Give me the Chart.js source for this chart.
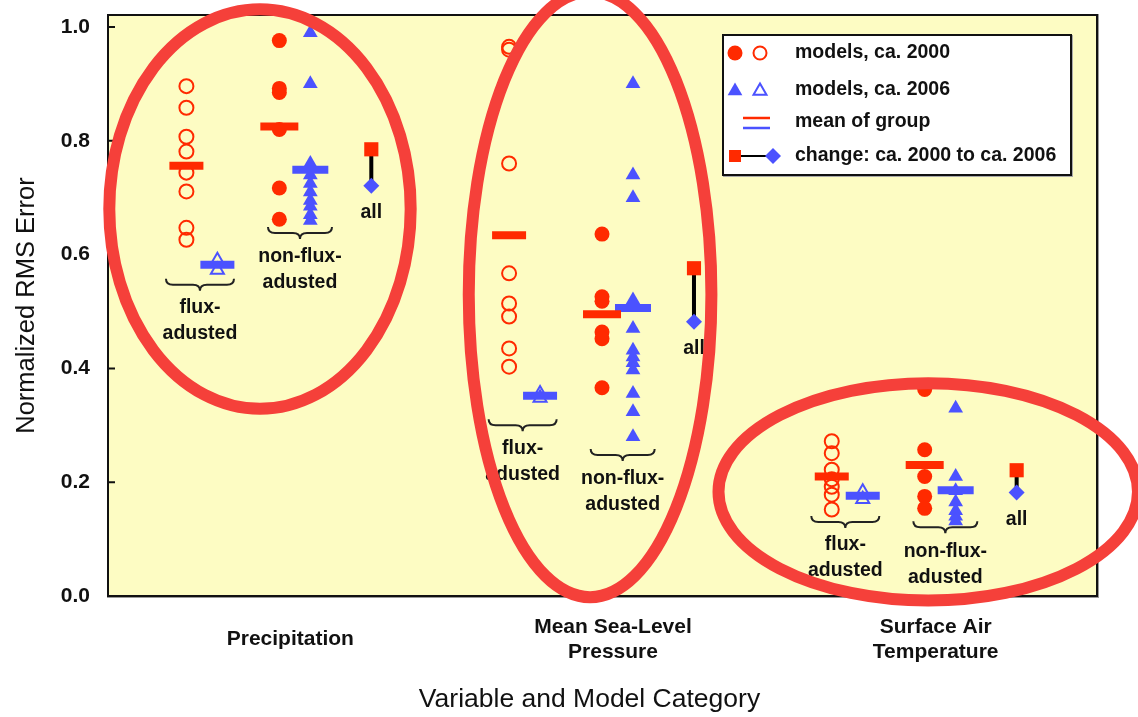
<!DOCTYPE html>
<html>
<head>
<meta charset="utf-8">
<script src="https://cdn.jsdelivr.net/npm/chart.js@4.4.1/dist/chart.umd.min.js"></script>
<style>
  html, body { margin: 0; padding: 0; background: #fff; }
  #wrap { width: 1138px; height: 717px; position: relative; }
</style>
</head>
<body>
<div id="wrap"><canvas id="rmsChart"></canvas></div>
<script>
// variables along the x axis
const categories = [['Precipitation'], ['Mean Sea-Level', 'Pressure'], ['Surface Air', 'Temperature']];
const yTicks = [0, 0.2, 0.4, 0.6, 0.8, 1.0];

// individual models, one list per variable
const flux2000 = [
  [0.896, 0.858, 0.807, 0.781, 0.744, 0.711, 0.647, 0.626],
  [0.965, 0.960, 0.760, 0.567, 0.514, 0.491, 0.435, 0.403],
  [0.272, 0.251, 0.222, 0.205, 0.192, 0.178, 0.152],
];
const flux2006 = [
  [0.590, 0.573],
  [0.356, 0.348],
  [0.183, 0.170],
];
const nonflux2000 = [
  [0.976, 0.892, 0.885, 0.820, 0.717, 0.662],
  [0.636, 0.526, 0.518, 0.464, 0.452, 0.366],
  [0.363, 0.257, 0.210, 0.175, 0.154],
];
const nonflux2006 = [
  [0.990, 0.900, 0.760, 0.740, 0.725, 0.710, 0.695, 0.685, 0.670, 0.660],
  [0.900, 0.740, 0.700, 0.520, 0.470, 0.432, 0.420, 0.410, 0.397, 0.356, 0.324, 0.280],
  [0.330, 0.210, 0.185, 0.165, 0.150, 0.140, 0.132],
];

// group means
const meanFlux2000 = [0.756, 0.634, 0.210];
const meanFlux2006 = [0.582, 0.352, 0.176];
const meanNonflux2000 = [0.825, 0.495, 0.230];
const meanNonflux2006 = [0.749, 0.506, 0.186];

// all models: ca. 2000 -> ca. 2006
const all2000 = [0.785, 0.576, 0.221];
const all2006 = [0.721, 0.482, 0.182];

// layout (x offsets from each variable, in category units)
const slot = { flux2000: -0.322, flux2006: -0.226, nonflux2000: -0.034, nonflux2006: 0.062, all: 0.251 };
const fluxBraceY = [0.547, 0.300, 0.130];
const nonfluxBraceY = [0.638, 0.248, 0.121];
const rings = [
  { x: -0.094, y: 0.680, rx: 0.467, ry: 0.351 },
  { x: 0.929, y: 0.530, rx: 0.376, ry: 0.532 },
  { x: 1.977, y: 0.183, rx: 0.650, ry: 0.191 },
];

const RED = '#ff2a00';
const BLUE = '#4b52ff';
const FONT = '"Liberation Sans", Arial, sans-serif';

const pts = (groups, off) => groups.flatMap((vals, i) => vals.map((v) => ({ x: i + off, y: v })));
const means = (vals, off) => vals.map((v, i) => ({ x: i + off, y: v }));

const datasets = [
  { data: pts(flux2000, slot.flux2000), pointStyle: 'circle', radius: 7, borderWidth: 2, borderColor: RED, backgroundColor: 'rgba(0,0,0,0)', order: 2 },
  { data: pts(nonflux2000, slot.nonflux2000), pointStyle: 'circle', radius: 7.5, borderWidth: 0, backgroundColor: RED, order: 2 },
  { data: pts(flux2006, slot.flux2006), pointStyle: 'triangle', radius: 7.5, borderWidth: 2, borderColor: BLUE, backgroundColor: 'rgba(0,0,0,0)', order: 2 },
  { data: pts(nonflux2006, slot.nonflux2006), pointStyle: 'triangle', radius: 8.5, borderWidth: 0, backgroundColor: BLUE, order: 2 },
  { data: means(meanFlux2000, slot.flux2000), pointStyle: 'line', radius: 17, borderWidth: 8, borderColor: RED, order: 1 },
  { data: means(meanNonflux2000, slot.nonflux2000), pointStyle: 'line', radius: 19, borderWidth: 8, borderColor: RED, order: 1 },
  { data: means(meanFlux2006, slot.flux2006), pointStyle: 'line', radius: 17, borderWidth: 8, borderColor: BLUE, order: 1 },
  { data: means(meanNonflux2006, slot.nonflux2006), pointStyle: 'line', radius: 18, borderWidth: 8, borderColor: BLUE, order: 1 },
];

all2000.forEach((v, i) => {
  datasets.push({
    type: 'line',
    data: [{ x: i + slot.all, y: v }, { x: i + slot.all, y: all2006[i] }],
    showLine: true,
    borderColor: '#000',
    borderWidth: 4,
    pointStyle: ['rect', 'rectRot'],
    pointRadius: [10, 8],
    pointBorderWidth: 0,
    pointBackgroundColor: [RED, BLUE],
    order: 0,
  });
});

// yellow plot area, frame and inward tick marks
const plotFrame = {
  id: 'plotFrame',
  beforeDraw(chart) {
    const { ctx, chartArea: a } = chart;
    ctx.save();
    ctx.fillStyle = '#fdfcc3';
    ctx.fillRect(a.left, a.top, a.right - a.left, a.bottom - a.top);
    ctx.restore();
  },
  beforeDatasetsDraw(chart) {
    const { ctx, chartArea: a, scales } = chart;
    ctx.save();
    ctx.strokeStyle = '#999';
    ctx.lineWidth = 1;
    ctx.strokeRect(a.left - 0.5, a.top - 0.5, a.right - a.left + 2, a.bottom - a.top + 2);
    ctx.strokeStyle = '#111';
    ctx.lineWidth = 2;
    ctx.strokeRect(a.left, a.top, a.right - a.left, a.bottom - a.top);
    ctx.beginPath();
    yTicks.forEach((t) => {
      const y = scales.y.getPixelForValue(t);
      ctx.moveTo(a.left, y);
      ctx.lineTo(a.left + 7, y);
    });
    ctx.stroke();
    ctx.restore();
  },
};

function brace(ctx, cx, y, w) {
  const h = w / 2;
  ctx.beginPath();
  ctx.moveTo(cx - h, y - 6);
  ctx.quadraticCurveTo(cx - h, y, cx - h + 7, y);
  ctx.lineTo(cx - 7, y);
  ctx.quadraticCurveTo(cx, y, cx, y + 6);
  ctx.quadraticCurveTo(cx, y, cx + 7, y);
  ctx.lineTo(cx + h - 7, y);
  ctx.quadraticCurveTo(cx + h, y, cx + h, y - 6);
  ctx.stroke();
}

function tri(ctx, x, y, r) {
  ctx.beginPath();
  ctx.moveTo(x, y - r);
  ctx.lineTo(x + r * 0.866, y + r * 0.5);
  ctx.lineTo(x - r * 0.866, y + r * 0.5);
  ctx.closePath();
}

const annotations = {
  id: 'annotations',
  afterDraw(chart) {
    const { ctx, chartArea: a, scales: { x: xs, y: ys } } = chart;
    ctx.save();
    ctx.textAlign = 'center';
    ctx.textBaseline = 'middle';
    ctx.fillStyle = '#111';

    // x axis title, set a little left of the plot centre as in the original
    ctx.font = '26.5px ' + FONT;
    ctx.fillText('Variable and Model Category', (a.left + a.right) / 2 - 13, 700);

    ctx.font = 'bold 19.5px ' + FONT;
    ctx.strokeStyle = '#222';
    ctx.lineWidth = 2;

    categories.forEach((c, i) => {
      const fx = xs.getPixelForValue(i - 0.28);
      const fy = ys.getPixelForValue(fluxBraceY[i]);
      brace(ctx, fx, fy, 68);
      ctx.fillText('flux-', fx, fy + 23);
      ctx.fillText('adusted', fx, fy + 49);

      const nx = xs.getPixelForValue(i + 0.03);
      const ny = ys.getPixelForValue(nonfluxBraceY[i]);
      brace(ctx, nx, ny, 64);
      ctx.fillText('non-flux-', nx, ny + 24);
      ctx.fillText('adusted', nx, ny + 50);

      ctx.fillText('all', xs.getPixelForValue(i + slot.all), ys.getPixelForValue(all2006[i]) + 27);
    });

    // legend box
    const lx = a.right - 374;
    const ly = a.top + 20;
    ctx.fillStyle = '#fff';
    ctx.fillRect(lx, ly, 348, 140);
    ctx.strokeStyle = '#aaa';
    ctx.lineWidth = 1;
    ctx.strokeRect(lx + 0.5, ly + 0.5, 349, 141);
    ctx.strokeStyle = '#111';
    ctx.lineWidth = 2;
    ctx.strokeRect(lx, ly, 348, 140);

    const rows = [ly + 18, ly + 55, ly + 87, ly + 121];
    // row 1: circles
    ctx.fillStyle = RED;
    ctx.beginPath(); ctx.arc(lx + 12, rows[0], 7.5, 0, Math.PI * 2); ctx.fill();
    ctx.strokeStyle = RED;
    ctx.beginPath(); ctx.arc(lx + 37, rows[0], 6.5, 0, Math.PI * 2); ctx.stroke();
    // row 2: triangles
    ctx.fillStyle = BLUE;
    ctx.strokeStyle = BLUE;
    tri(ctx, lx + 12, rows[1] + 1, 8.5); ctx.fill();
    tri(ctx, lx + 37, rows[1] + 1, 7.5); ctx.stroke();
    // row 3: mean lines
    ctx.lineWidth = 2.5;
    ctx.strokeStyle = RED;
    ctx.beginPath(); ctx.moveTo(lx + 20, rows[2] - 4); ctx.lineTo(lx + 47, rows[2] - 4); ctx.stroke();
    ctx.strokeStyle = BLUE;
    ctx.beginPath(); ctx.moveTo(lx + 20, rows[2] + 6); ctx.lineTo(lx + 47, rows[2] + 6); ctx.stroke();
    // row 4: change
    ctx.strokeStyle = '#000';
    ctx.lineWidth = 2;
    ctx.beginPath(); ctx.moveTo(lx + 12, rows[3]); ctx.lineTo(lx + 50, rows[3]); ctx.stroke();
    ctx.fillStyle = RED;
    ctx.fillRect(lx + 6, rows[3] - 6, 12, 12);
    ctx.fillStyle = BLUE;
    ctx.beginPath();
    ctx.moveTo(lx + 50, rows[3] - 8); ctx.lineTo(lx + 58, rows[3]);
    ctx.lineTo(lx + 50, rows[3] + 8); ctx.lineTo(lx + 42, rows[3]);
    ctx.closePath(); ctx.fill();

    ctx.fillStyle = '#111';
    ctx.textAlign = 'left';
    ['models, ca. 2000', 'models, ca. 2006', 'mean of group', 'change: ca. 2000 to ca. 2006']
      .forEach((t, k) => ctx.fillText(t, lx + 72, rows[k]));

    // red highlight rings
    ctx.strokeStyle = '#f5403a';
    ctx.lineWidth = 12;
    rings.forEach((r) => {
      const cx = xs.getPixelForValue(r.x);
      const cy = ys.getPixelForValue(r.y);
      const rx = xs.getPixelForValue(r.x + r.rx) - cx;
      const ry = cy - ys.getPixelForValue(r.y + r.ry);
      ctx.beginPath();
      ctx.ellipse(cx, cy, rx, ry, 0, 0, Math.PI * 2);
      ctx.stroke();
    });
    ctx.restore();
  },
};

new Chart(document.getElementById('rmsChart'), {
  type: 'scatter',
  data: { datasets },
  options: {
    responsive: true,
    maintainAspectRatio: false,
    animation: false,
    layout: { autoPadding: false, padding: { top: 15, right: 41, left: 0, bottom: 0 } },
    plugins: {
      legend: { display: false },
      tooltip: { enabled: false },
    },
    scales: {
      x: {
        type: 'linear',
        min: -0.565,
        max: 2.5,
        grid: { display: false, drawTicks: false },
        border: { display: false },
        afterBuildTicks: (axis) => { axis.ticks = categories.map((c, i) => ({ value: i })); },
        afterFit: (axis) => {
          axis.height = 121;
          axis.paddingLeft = 0;
          axis.paddingRight = 0;
        },
        ticks: {
          autoSkip: false,
          maxRotation: 0,
          padding: 31,
          crossAlign: 'center',
          color: '#111',
          font: { family: FONT, size: 21, weight: 'bold', lineHeight: 1.19 },
          callback: (v) => categories[v],
        },
        title: { display: false },
      },
      y: {
        min: 0,
        max: 1.021,
        grid: { display: false, drawTicks: false },
        border: { display: false },
        afterBuildTicks: (axis) => { axis.ticks = yTicks.map((v) => ({ value: v })); },
        afterFit: (axis) => {
          axis.width = 108;
          axis.paddingTop = 0;
          axis.paddingBottom = 0;
        },
        ticks: {
          padding: 18,
          color: '#111',
          font: { family: FONT, size: 21, weight: 'bold' },
          callback: (v) => v.toFixed(1),
        },
        title: {
          display: true,
          text: 'Normalized RMS Error',
          color: '#111',
          font: { family: FONT, size: 25.5 },
          padding: { top: 12, bottom: 0 },
        },
      },
    },
  },
  plugins: [plotFrame, annotations],
});
</script>
</body>
</html>
